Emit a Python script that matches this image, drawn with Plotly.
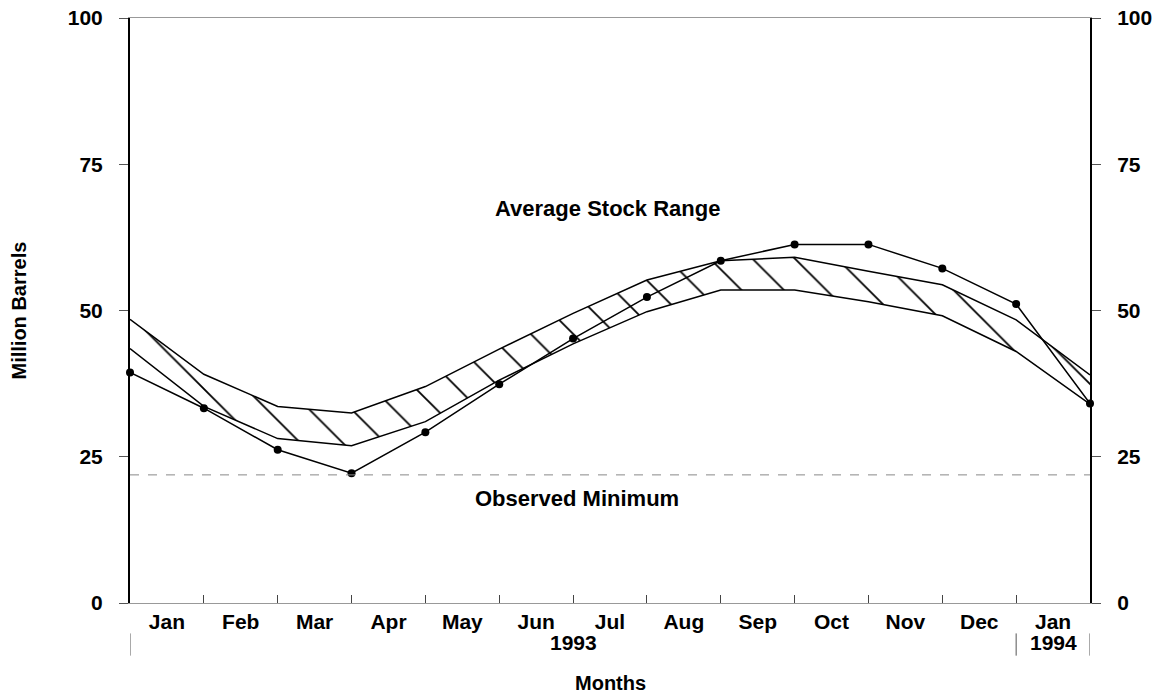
import plotly.graph_objects as go

# ---- data -------------------------------------------------------------
month_labels = ["Jan", "Feb", "Mar", "Apr", "May", "Jun", "Jul", "Aug",
                "Sep", "Oct", "Nov", "Dec", "Jan"]
boundaries = list(range(14))          # month boundaries (end-of-month points)
stocks = [39.4, 33.3, 26.2, 22.2, 29.2, 37.4, 45.2, 52.3, 58.5, 61.3,
          61.3, 57.2, 51.1, 34.1]
range_upper = [48.5, 39.1, 33.6, 32.5, 37.0, 43.4, 49.5, 55.2, 58.5, 59.1,
               56.7, 54.4, 48.4, 39.0]
range_lower = [43.5, 33.6, 28.1, 26.9, 31.0, 38.1, 44.3, 49.8, 53.5, 53.5,
               51.5, 49.1, 43.0, 34.0]
observed_min = 21.9
years = ["1993", "1994"]
year_centers = [6.0, 12.5]
year_separators = [0, 12, 13]
y_ticks = [0, 25, 50, 75, 100]

FONT = "Liberation Sans, Arial, sans-serif"
TXT = dict(family=FONT, size=22, color="black", weight="bold")
TICK = dict(TXT, size=21)
month_centers = [b + 0.5 for b in boundaries[:-1]]

fig = go.Figure()

# average stock range band (lower edge, then upper edge filled with hatch)
fig.add_trace(go.Scatter(
    x=boundaries, y=range_lower, mode="lines",
    line=dict(color="black", width=1.5), hoverinfo="skip", showlegend=False))
fig.add_trace(go.Scatter(
    x=boundaries, y=range_upper, mode="lines", fill="tonexty",
    fillcolor="rgba(255,255,255,0)",
    fillpattern=dict(shape="\\", size=30, solidity=0.06,
                     fgcolor="black", fgopacity=1,
                     bgcolor="rgba(255,255,255,0)"),
    line=dict(color="black", width=1.5), hoverinfo="skip", showlegend=False))

# observed minimum
fig.add_trace(go.Scatter(
    x=[boundaries[0], boundaries[-1]], y=[observed_min, observed_min],
    mode="lines", line=dict(color="#888", width=1, dash="dash"),
    yaxis="y2", hoverinfo="skip", showlegend=False))

# actual stocks
fig.add_trace(go.Scatter(
    x=boundaries, y=stocks, mode="lines+markers", cliponaxis=False,
    line=dict(color="black", width=1.5),
    marker=dict(symbol="circle", size=8, color="black"),
    showlegend=False))

axis_y = dict(range=[0, 100], tickvals=y_ticks, ticks="outside", ticklen=9,
              tickcolor="#555", tickwidth=1, showline=True, linecolor="black",
              linewidth=2, showgrid=False, zeroline=False, automargin=False,
              tickfont=TICK, ticklabelstandoff=12, ticklabeloverflow="allow")

fig.update_layout(
    width=1163, height=693,
    margin=dict(l=130, r=73, t=18, b=90, autoexpand=False),
    paper_bgcolor="white", plot_bgcolor="white",
    font=dict(family=FONT, size=22, color="black"),
    xaxis=dict(range=[0, 13], tickvals=month_centers, ticktext=month_labels,
               ticks="", showline=True, linecolor="#999", linewidth=1,
               mirror=True, showgrid=False, zeroline=False, automargin=False,
               tickfont=TICK, ticklabelstandoff=0,
               minor=dict(tickvals=boundaries[1:-1], ticks="inside",
                          ticklen=8, tickcolor="#444", tickwidth=1)),
    yaxis=axis_y,
    yaxis2=dict(axis_y, overlaying="y", side="right"),
)

annotations = [
    dict(text="Average Stock Range", x=6.47, y=67.4, xref="x", yref="y",
         showarrow=False, font=TXT),
    dict(text="Observed Minimum", x=6.05, y=17.8, xref="x", yref="y",
         showarrow=False, font=TXT),
    dict(text="Months", x=0.5, y=0, xref="paper", yref="paper", yshift=-80,
         yanchor="middle", showarrow=False, font=dict(TXT, size=20)),
    dict(text="Million Barrels", x=0, y=0.5, xref="paper", yref="paper",
         xshift=-112, xanchor="center", yanchor="middle", textangle=-90,
         showarrow=False, font=dict(TXT, size=20)),
]
for yr, xc in zip(years, year_centers):
    annotations.append(dict(text=yr, x=xc, y=0, xref="x", yref="paper",
                            yshift=-39, yanchor="middle", showarrow=False,
                            font=TICK))
fig.update_layout(annotations=annotations)

for xs in year_separators:
    fig.add_shape(type="line", x0=xs, x1=xs, y0=-0.052, y1=-0.09,
                  xref="x", yref="paper", line=dict(color="#555", width=1))

# remove the default page margin so the figure sits at the window's corner
fig.write_html("out.html",
               config={"displayModeBar": False},
               post_script="document.body.style.margin='0px';")
